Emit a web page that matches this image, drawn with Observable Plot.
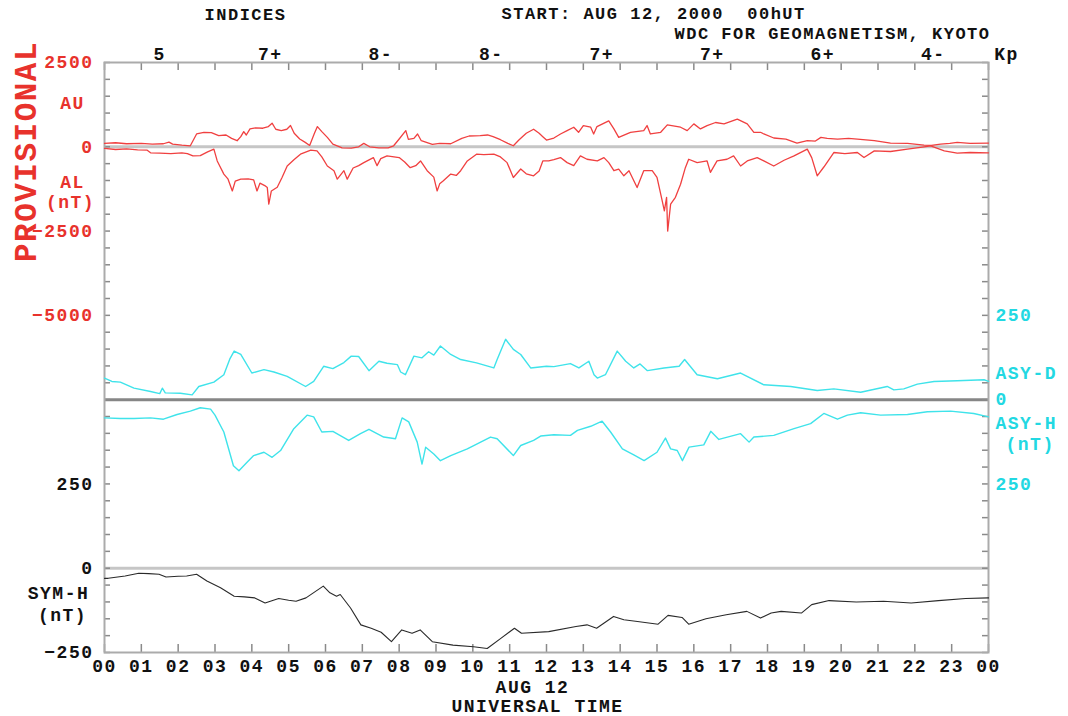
<!DOCTYPE html>
<html><head><meta charset="utf-8">
<script src="https://cdn.jsdelivr.net/npm/d3@7"></script>
<script src="https://cdn.jsdelivr.net/npm/@observablehq/plot@0.6"></script>
<style>
html,body{margin:0;padding:0;background:#fff;}
#chart svg{display:block;}
</style></head><body><div id="chart"></div>
<script>
// ---- tick labels / categories ----
const hours = d3.range(0, 25);
const kpLabels = ["5","7+","8-","8-","7+","7+","6+","4-"];
const aeTickLabels = [2500, 0, -2500, -5000];
const symTickLabels = [250, 0, -250];
const asyDTickLabels = [250, 0];
const asyHTickLabels = [250];

// ---- series [hour UT, nT] ----
const AU = [[0,100],[0.3,120],[0.6,90],[1.0,100],[1.3,80],[1.6,90],[1.75,140],[1.85,80],[2.1,50],[2.33,30],[2.5,380],[2.7,430],[2.9,420],[3.1,330],[3.3,350],[3.45,250],[3.6,180],[3.7,300],[3.78,450],[3.85,350],[3.95,530],[4.1,560],[4.3,550],[4.45,600],[4.55,700],[4.65,520],[4.8,480],[4.95,520],[5.05,630],[5.15,400],[5.3,230],[5.45,130],[5.57,40],[5.7,400],[5.78,600],[5.9,450],[6.05,280],[6.2,80],[6.45,-30],[6.7,-40],[6.9,0],[7.04,100],[7.2,0],[7.45,-30],[7.7,-30],[7.85,30],[8.0,230],[8.18,480],[8.25,220],[8.4,250],[8.5,380],[8.6,180],[8.9,70],[9.1,100],[9.4,90],[9.7,250],[9.9,320],[10.2,330],[10.4,350],[10.55,300],[10.75,210],[10.95,100],[11.1,30],[11.25,200],[11.45,400],[11.65,520],[11.8,400],[11.9,300],[12.0,200],[12.2,260],[12.38,380],[12.56,480],[12.74,580],[12.87,430],[13.0,630],[13.2,580],[13.28,380],[13.37,600],[13.69,770],[13.83,530],[13.96,280],[14.28,430],[14.64,480],[14.73,630],[14.82,380],[15.1,430],[15.28,650],[15.64,580],[15.82,480],[16.0,680],[16.18,530],[16.36,630],[16.59,720],[16.82,680],[17.18,820],[17.45,680],[17.63,430],[17.81,430],[17.9,380],[18.17,260],[18.5,230],[18.8,110],[19.08,180],[19.3,170],[19.45,280],[19.62,250],[19.9,230],[20.2,250],[20.44,230],[20.9,180],[21.34,110],[21.8,100],[22.25,50],[22.45,40],[22.7,80],[22.95,100],[23.15,130],[23.5,100],[24,110]];
const AL = [[0,-50],[0.3,-80],[0.6,-60],[0.9,-90],[1.16,-100],[1.25,-180],[1.5,-190],[1.8,-200],[2.1,-180],[2.25,-200],[2.4,-270],[2.6,-260],[2.8,-150],[2.97,-70],[3.06,-420],[3.24,-810],[3.35,-950],[3.47,-1310],[3.55,-1020],[3.7,-960],[3.9,-950],[4.05,-980],[4.14,-1310],[4.22,-1080],[4.35,-1150],[4.42,-1210],[4.46,-1700],[4.53,-1310],[4.69,-1200],[4.82,-910],[4.96,-570],[5.15,-380],[5.32,-220],[5.6,-100],[5.77,-120],[5.9,-300],[6.05,-570],[6.23,-710],[6.32,-960],[6.5,-710],[6.59,-960],[6.75,-630],[6.9,-560],[7.04,-470],[7.3,-320],[7.4,-560],[7.5,-350],[7.67,-270],[8.0,-320],[8.15,-450],[8.3,-620],[8.45,-560],[8.58,-420],[8.76,-710],[8.94,-900],[9.03,-1310],[9.1,-1100],[9.2,-1010],[9.4,-810],[9.55,-850],[9.67,-710],[9.85,-420],[10.1,-220],[10.3,-230],[10.57,-220],[10.75,-300],[10.93,-470],[11.1,-910],[11.3,-660],[11.45,-800],[11.65,-860],[11.8,-720],[11.9,-420],[12.06,-420],[12.2,-380],[12.38,-320],[12.56,-470],[12.74,-560],[12.92,-270],[13.1,-370],[13.38,-420],[13.56,-320],[13.69,-470],[13.83,-710],[13.96,-660],[14.1,-860],[14.24,-710],[14.46,-1210],[14.64,-710],[14.87,-710],[15.0,-910],[15.14,-1600],[15.2,-1900],[15.26,-1500],[15.29,-2500],[15.37,-1700],[15.5,-1500],[15.64,-1110],[15.77,-620],[15.86,-370],[16.09,-470],[16.36,-420],[16.45,-760],[16.63,-420],[16.9,-370],[17.08,-270],[17.27,-570],[17.45,-420],[17.72,-320],[17.9,-420],[18.17,-570],[18.45,-400],[18.72,-270],[19.08,-70],[19.2,-320],[19.35,-860],[19.53,-600],[19.8,-170],[20.1,-200],[20.44,-170],[20.62,-320],[20.9,-120],[21.34,-140],[21.8,-70],[22.25,0],[22.43,30],[22.8,-120],[23.15,-190],[23.5,-170],[24,-180]];
const ASYD = [[0,64],[0.2,54],[0.43,52],[0.8,34],[1.25,24],[1.5,18],[1.57,34],[1.65,20],[2.06,19],[2.38,14],[2.56,39],[2.97,52],[3.24,74],[3.4,120],[3.52,144],[3.7,134],[4.0,79],[4.33,89],[4.6,82],[4.96,69],[5.46,39],[5.68,54],[5.95,99],[6.2,92],[6.5,110],[6.7,129],[6.9,128],[7.18,86],[7.45,114],[7.67,108],[7.95,104],[8.04,82],[8.17,74],[8.4,129],[8.62,124],[8.8,142],[8.94,132],[9.12,159],[9.4,134],[9.67,119],[10.1,109],[10.57,94],[10.66,119],[10.89,179],[11.1,149],[11.3,134],[11.57,94],[12.0,99],[12.2,98],[12.65,107],[12.88,94],[13.15,114],[13.29,74],[13.38,64],[13.6,74],[13.92,144],[14.15,114],[14.37,94],[14.54,106],[14.74,86],[15.19,94],[15.6,99],[15.75,119],[16.09,74],[16.64,62],[17.27,79],[17.9,44],[18.63,39],[19.35,27],[19.8,32],[20.53,22],[21.25,39],[21.43,29],[21.7,32],[22.07,46],[22.52,54],[23.15,56],[23.88,59],[24,54]];
const ASYH = [[0,54],[0.43,56],[0.8,56],[1.25,54],[1.6,58],[1.97,44],[2.33,34],[2.6,24],[2.88,28],[3.0,46],[3.24,96],[3.5,196],[3.65,211],[3.87,186],[4.05,166],[4.33,156],[4.55,171],[4.78,151],[5.14,86],[5.5,46],[5.68,51],[5.9,96],[6.2,94],[6.63,121],[6.95,101],[7.18,88],[7.58,111],[7.9,116],[8.08,54],[8.26,66],[8.49,126],[8.62,191],[8.72,141],[8.94,161],[9.12,181],[9.4,166],[9.85,146],[10.48,111],[10.66,116],[11.1,166],[11.3,136],[11.65,121],[11.84,108],[12.2,104],[12.65,106],[12.84,91],[13.2,79],[13.51,64],[13.74,96],[14.06,146],[14.37,164],[14.65,181],[15.0,156],[15.23,114],[15.37,146],[15.55,151],[15.69,181],[15.87,141],[16.27,134],[16.46,94],[16.68,118],[17.27,101],[17.5,126],[17.63,111],[18.17,106],[18.72,86],[19.17,71],[19.53,41],[19.9,58],[20.17,46],[20.53,39],[21.07,46],[21.8,44],[22.34,36],[22.97,34],[23.6,41],[24,51]];
const SYMH = [[0,-30],[0.1,-30],[0.56,-23],[0.93,-15],[1.2,-16],[1.48,-18],[1.67,-26],[2.0,-24],[2.23,-23],[2.5,-18],[2.78,-38],[3.15,-58],[3.52,-83],[3.8,-85],[4.08,-88],[4.36,-103],[4.73,-90],[5.0,-95],[5.2,-98],[5.47,-88],[5.94,-53],[6.12,-73],[6.3,-83],[6.4,-78],[6.68,-118],[6.96,-168],[7.24,-178],[7.51,-190],[7.79,-218],[8.07,-183],[8.35,-193],[8.57,-183],[8.9,-218],[9.46,-228],[10.02,-233],[10.39,-238],[10.76,-208],[11.13,-178],[11.32,-193],[12.06,-188],[12.8,-173],[13.1,-168],[13.36,-178],[13.82,-143],[14.1,-153],[14.47,-158],[15.03,-166],[15.3,-140],[15.68,-146],[15.86,-166],[16.33,-150],[16.88,-138],[17.44,-128],[17.81,-148],[18.1,-133],[18.37,-128],[18.92,-133],[19.2,-108],[19.67,-96],[20.41,-100],[21.15,-98],[21.9,-103],[22.64,-96],[23.38,-90],[24,-88]];

// ---- layout ----
const W = 1068, H = 716, mt = 62, mb = 64, ml = 104, mr = 80;
const pw = W - ml - mr, ph = H - mt - mb;
// shared vertical scale (SYM-H nT units); other panels offset/scaled onto it
const ae = v => 1250 + v / 10;
const asyD = v => 500 + v;
const asyH = v => 500 - v;
const sym = v => v;
const tickYs = d3.range(-250, 1501, 50);

const RED = "#f04040", RED_T = "#e8322c", CYAN = "#3fe3ea", CYAN_T = "#22d8e2", BLK = "#2a2a2a";
const FONT = "'Liberation Mono', 'Courier New', monospace";
const FS = 18;
const FW = "bold";
const minus = d => String(d).replace("-", "\u2212");
const base = {fontFamily: FONT, fontSize: FS, fontWeight: FW, textAnchor: "middle", lineAnchor: "middle", fill: "#111"};
const T = (txt, o) => Plot.text([txt], {text: d => d, ...base, ...o});

const chart = Plot.plot({
  width: W, height: H,
  marginTop: mt, marginBottom: mb, marginLeft: ml, marginRight: mr,
  x: {domain: [0, 24], axis: null},
  y: {domain: [-250, 1500], axis: null},
  style: {background: "#fff", fontFamily: FONT, letterSpacing: "1.5px"},
  marks: [
    Plot.ruleY([ae(0)], {stroke: "#c6c6c6", strokeWidth: 3}),
    Plot.ruleY([asyD(0)], {stroke: "#868686", strokeWidth: 3}),
    Plot.ruleY([sym(0)], {stroke: "#c6c6c6", strokeWidth: 3}),
    Plot.tickX(hours, {x: d => d, insetTop: ph - 8, stroke: "#8a8a8a", strokeWidth: 1.5}),
    Plot.tickX(hours, {x: d => d, insetBottom: ph - 8, stroke: "#8a8a8a", strokeWidth: 1.5}),
    Plot.tickY(tickYs, {y: d => d, insetRight: pw - 6, stroke: "#8a8a8a", strokeWidth: 1.5}),
    Plot.tickY(tickYs, {y: d => d, insetLeft: pw - 6, stroke: "#8a8a8a", strokeWidth: 1.5}),
    Plot.frame({stroke: "#ababab", strokeWidth: 2}),

    Plot.line(AU, {x: d => d[0], y: d => ae(d[1]), stroke: RED, strokeWidth: 1.3}),
    Plot.line(AL, {x: d => d[0], y: d => ae(d[1]), stroke: RED, strokeWidth: 1.3}),
    Plot.line(ASYD, {x: d => d[0], y: d => asyD(d[1]), stroke: CYAN, strokeWidth: 1.4}),
    Plot.line(ASYH, {x: d => d[0], y: d => asyH(d[1]), stroke: CYAN, strokeWidth: 1.4}),
    Plot.line(SYMH, {x: d => d[0], y: d => sym(d[1]), stroke: BLK, strokeWidth: 1.1}),

    // left tick labels
    Plot.text(aeTickLabels, {...base, y: d => ae(d), text: minus, frameAnchor: "left", textAnchor: "end", dx: -11, fill: RED_T}),
    Plot.text(symTickLabels, {...base, y: d => sym(d), text: minus, frameAnchor: "left", textAnchor: "end", dx: -11}),
    // right tick labels
    Plot.text(asyDTickLabels, {...base, y: d => asyD(d), text: minus, frameAnchor: "right", textAnchor: "start", dx: 7, fill: CYAN_T}),
    Plot.text(asyHTickLabels, {...base, y: d => asyH(d), text: minus, frameAnchor: "right", textAnchor: "start", dx: 7, fill: CYAN_T}),
    // bottom hour labels
    Plot.text(hours, {...base, x: d => d, text: d => String(d % 24).padStart(2, "0"), frameAnchor: "bottom", dy: 14}),
    // Kp row
    Plot.text(kpLabels, {...base, x: (d, i) => i * 3 + 1.5, text: d => d, frameAnchor: "top", dy: -8}),
    T("Kp", {frameAnchor: "top-right", dx: 18, dy: -8}),

    // headers
    T("INDICES", {frameAnchor: "top-left", dx: 141, dy: -48, fontSize: 17, letterSpacing: "2px"}),
    T("START: AUG 12, 2000  00hUT", {frameAnchor: "top-left", dx: 397, dy: -49, textAnchor: "start", fontSize: 17, letterSpacing: "2px"}),
    T("WDC FOR GEOMAGNETISM, KYOTO", {frameAnchor: "top-right", dx: 2, dy: -29, textAnchor: "end", fontSize: 17, letterSpacing: "2px"}),
    T("AUG 12", {frameAnchor: "bottom", dx: -14, dy: 35}),
    T("UNIVERSAL TIME", {frameAnchor: "bottom", dx: -9, dy: 54}),

    // side labels
    T("PROVISIONAL", {frameAnchor: "top-left", dx: -78, dy: 89, rotate: -90, fontSize: 31, letterSpacing: 0, fill: RED_T}),
    T("AU", {frameAnchor: "top-left", dx: -32, dy: 41, fill: RED_T}),
    T("AL", {frameAnchor: "top-left", dx: -32, dy: 120, fill: RED_T}),
    T("(nT)", {frameAnchor: "top-left", dx: -34, dy: 140, fill: RED_T}),
    T("ASY-D", {frameAnchor: "top-right", dx: 7, dy: 311, textAnchor: "start", fill: CYAN_T}),
    T("ASY-H", {frameAnchor: "top-right", dx: 7, dy: 361, textAnchor: "start", fill: CYAN_T}),
    T("(nT)", {frameAnchor: "top-right", dx: 17, dy: 382, textAnchor: "start", fill: CYAN_T}),
    T("SYM-H", {frameAnchor: "bottom-left", dx: -46, dy: -59}),
    T("(nT)", {frameAnchor: "bottom-left", dx: -42, dy: -37})
  ]
});
document.getElementById("chart").appendChild(chart);
</script>
</body></html>
